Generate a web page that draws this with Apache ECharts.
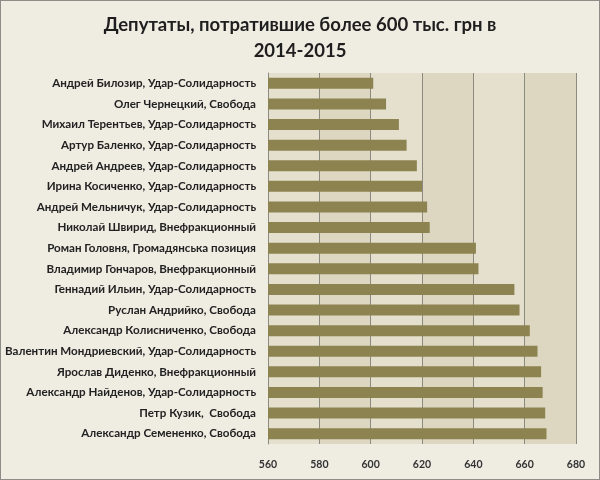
<!DOCTYPE html>
<html><head><meta charset="utf-8">
<script src="https://cdn.jsdelivr.net/npm/echarts@6/dist/echarts.min.js"></script>
<style>html,body{margin:0;padding:0;background:#efece2}#c{width:600px;height:480px;box-sizing:border-box;border:1px solid #8d8d88}</style>
</head><body><div id="c"></div>
<script>
const titleText = 'Депутаты, потратившие более 600 тыс. грн в\n2014-2015';
const categories = [
 'Андрей Билозир, Удар-Солидарность',
 'Олег Чернецкий, Свобода',
 'Михаил Терентьев, Удар-Солидарность',
 'Артур Баленко, Удар-Солидарность',
 'Андрей Андреев, Удар-Солидарность',
 'Ирина Косиченко, Удар-Солидарность',
 'Андрей Мельничук, Удар-Солидарность',
 'Николай Швирид, Внефракционный',
 'Роман Головня, Громадянська позиция',
 'Владимир Гончаров, Внефракционный',
 'Геннадий Ильин, Удар-Солидарность',
 'Руслан Андрийко, Свобода',
 'Александр Колисниченко, Свобода',
 'Валентин Мондриевский, Удар-Солидарность',
 'Ярослав Диденко, Внефракционный',
 'Александр Найденов, Удар-Солидарность',
 'Петр Кузик,  Свобода',
 'Александр Семененко, Свобода'
];
const values = [601, 606, 611, 614, 618, 620, 622, 623, 641, 642, 656, 658, 662, 665, 666.4, 667, 668, 668.5];
const axisMin = 560, axisMax = 680, axisStep = 20;

const chart = echarts.init(document.getElementById('c'));
chart.setOption({
  backgroundColor: '#efece2',
  animation: false,
  title: {
    text: titleText, left: 'center', top: 6,
    textStyle: {fontFamily: 'Lato', fontWeight: 'bold', fontSize: 18.5, color: '#1e1e1e', lineHeight: 26}
  },
  grid: {left: 267, right: 23, top: 72, bottom: 35, containLabel: false},
  xAxis: {
    type: 'value', min: axisMin, max: axisMax, interval: axisStep,
    axisLine: {show: false}, axisTick: {show: false},
    axisLabel: {fontFamily: 'Lato', fontWeight: 'bold', fontSize: 10.5, color: '#333', margin: 15},
    splitLine: {show: true, lineStyle: {color: '#8a8a80', width: 1}},
    splitArea: {show: true, areaStyle: {color: ['#e5e0cd', '#ddd6c0']}}
  },
  yAxis: {
    type: 'category', data: categories, inverse: true,
    axisLine: {show: true, lineStyle: {color: '#8a8a80'}}, axisTick: {show: false},
    axisLabel: {fontFamily: 'Lato', fontWeight: 'bold', fontSize: 11.6, color: '#222', margin: 12}
  },
  series: [{
    type: 'bar', data: values, barWidth: 11,
    itemStyle: {color: '#8c8350'}
  }]
});
</script></body></html>
